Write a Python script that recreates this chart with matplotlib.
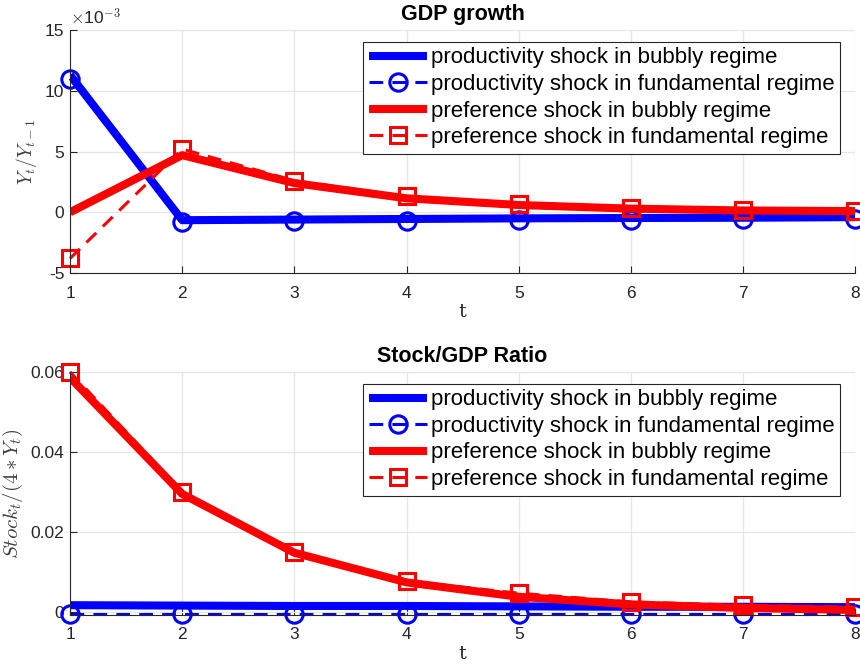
import matplotlib
matplotlib.use("Agg")
import matplotlib.pyplot as plt
import numpy as np

plt.rcParams['font.family'] = ['Liberation Sans', 'DejaVu Sans']
plt.rcParams['mathtext.fontset'] = 'cm'

t = [1, 2, 3, 4, 5, 6, 7, 8]

# GDP growth, in units of 1e-3
gdp_prod_bubbly = [11.3, -0.65, -0.6, -0.55, -0.5, -0.47, -0.45, -0.4]
gdp_prod_fund = [11.0, -0.8, -0.75, -0.7, -0.65, -0.6, -0.58, -0.55]
gdp_pref_bubbly = [0.0, 4.7, 2.4, 1.15, 0.6, 0.3, 0.15, 0.1]
gdp_pref_fund = [-3.8, 5.2, 2.6, 1.3, 0.65, 0.35, 0.2, 0.1]

# Stock/GDP ratio
sr_prod_bubbly = [0.0017, 0.0016, 0.0015, 0.0015, 0.0014, 0.0013, 0.0013, 0.0012]
sr_prod_fund = [-0.0005, -0.0005, -0.0005, -0.0005, -0.0005, -0.0005, -0.0005, -0.0005]
sr_pref_bubbly = [0.0586, 0.0295, 0.0148, 0.0074, 0.0038, 0.0019, 0.0010, 0.0005]
sr_pref_fund = [0.0600, 0.0301, 0.0151, 0.0077, 0.0047, 0.0025, 0.0017, 0.0012]

labels = ["productivity shock in bubbly regime",
          "productivity shock in fundamental regime",
          "preference shock in bubbly regime",
          "preference shock in fundamental regime"]

fig = plt.figure(figsize=(8.6, 6.66), dpi=100)
ax1 = fig.add_axes([0.0814, 0.590, 0.913, 0.365])
ax2 = fig.add_axes([0.0814, 0.0766, 0.913, 0.365])

def draw(ax, s1, s2, s3, s4):
    ax.plot(t, s1, color="#0000ff", lw=5.8, solid_capstyle="butt", label=labels[0])
    ax.plot(t, s2, color="#0000ff", lw=2.2, ls=(0, (4.5, 3)), marker="o", ms=12.5,
            mfc="none", mew=2.2, label=labels[1], clip_on=False)
    ax.plot(t, s3, color="#ff0000", lw=5.8, solid_capstyle="butt", label=labels[2])
    ax.plot(t, s4, color="#ff0000", lw=2.2, ls=(0, (4.5, 3)), marker="s", ms=12,
            mfc="none", mew=2.2, label=labels[3], clip_on=False)
    ax.set_xlim(1, 8)
    ax.set_xticks(t)
    ax.grid(True, color="#e6e6e6", lw=0.9)
    ax.set_axisbelow(True)
    for side in ["top", "right"]:
        ax.spines[side].set_visible(False)
    for side in ["left", "bottom"]:
        ax.spines[side].set_color("#262626")
        ax.spines[side].set_linewidth(0.8)
    ax.tick_params(direction="in", colors="#262626", labelsize=12.5, length=5)
    ax.tick_params(axis="x", pad=9)
    ax.tick_params(axis="y", pad=4)
    ax.set_xlabel("t", fontsize=14, color="#262626", family="serif", labelpad=2)
    leg = ax.legend(loc="upper right", bbox_to_anchor=(0.981, 0.951), fontsize=16,
                    frameon=True, fancybox=False, framealpha=1, edgecolor="#262626",
                    handlelength=2.6, handletextpad=0.2, borderpad=0.25,
                    labelspacing=0.25, borderaxespad=0)
    leg.get_frame().set_linewidth(0.8)

draw(ax1, gdp_prod_bubbly, gdp_prod_fund, gdp_pref_bubbly, gdp_pref_fund)
ax1.set_ylim(-5, 15)
ax1.set_yticks([-5, 0, 5, 10, 15])
ax1.set_yticklabels(["-5", "0", "5", "10", "15"])
ax1.set_title("GDP growth", fontsize=15.5, fontweight="bold", pad=7)
ax1.set_ylabel(r"$Y_t/Y_{t-1}$", fontsize=14, color="#404040", labelpad=4)
ax1.text(0.0, 1.01, r"$\times$10$^{\mathsf{-3}}$", transform=ax1.transAxes,
         fontsize=12.5, color="#262626", ha="left", va="bottom")

draw(ax2, sr_prod_bubbly, sr_prod_fund, sr_pref_bubbly, sr_pref_fund)
ax2.set_ylim(-0.00075, 0.06)
ax2.set_yticks([0, 0.02, 0.04, 0.06])
ax2.set_yticklabels(["0", "0.02", "0.04", "0.06"])
ax2.set_title("Stock/GDP Ratio", fontsize=15.5, fontweight="bold", pad=7)
ax2.set_ylabel(r"$Stock_t/(4*Y_t)$", fontsize=15, color="#404040", labelpad=4)

fig.savefig("out.png", dpi=100)
